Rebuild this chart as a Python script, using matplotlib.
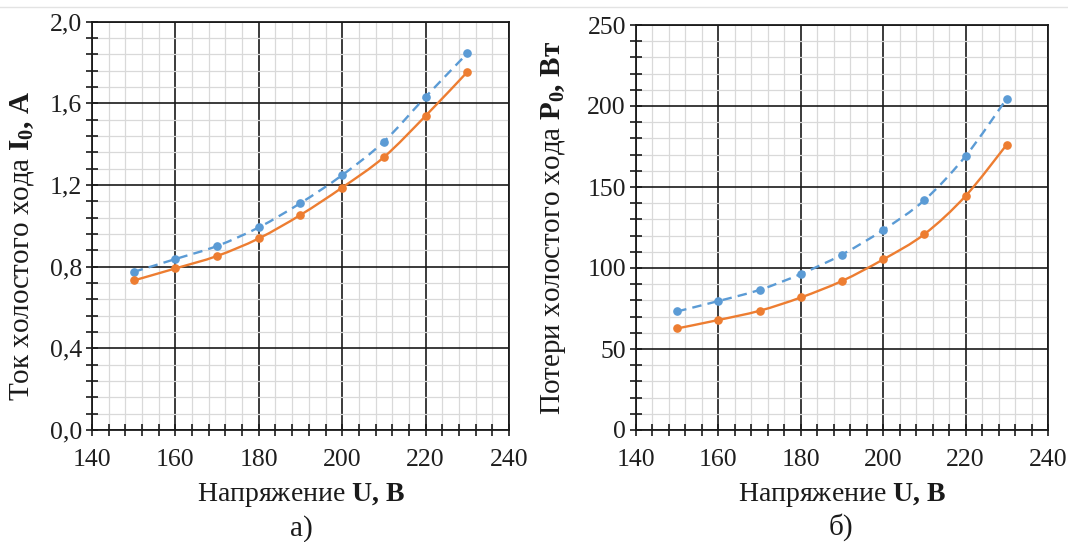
import numpy as np
import matplotlib
matplotlib.use("Agg")
import matplotlib.pyplot as plt
from matplotlib.path import Path
from matplotlib.patches import PathPatch
from matplotlib.lines import Line2D
from matplotlib.ticker import MultipleLocator, FuncFormatter

plt.rcParams['font.family'] = ['Liberation Serif', 'DejaVu Serif']
plt.rcParams['mathtext.fontset'] = 'custom'
plt.rcParams['mathtext.rm'] = 'Liberation Serif'
plt.rcParams['mathtext.it'] = 'Liberation Serif:italic'
plt.rcParams['mathtext.bf'] = 'Liberation Serif:bold'

# Напряжение, В
voltage = [150, 160, 170, 180, 190, 200, 210, 220, 230]

# Ток холостого хода, А
current_blue = [0.774, 0.837, 0.901, 0.992, 1.111, 1.248, 1.412, 1.631, 1.844]
current_orange = [0.732, 0.791, 0.852, 0.938, 1.053, 1.187, 1.336, 1.538, 1.753]

# Потери холостого хода, Вт
loss_blue = [73.2, 79.6, 86.5, 96.3, 108.3, 123.5, 141.9, 169.1, 204.6]
loss_orange = [62.7, 67.9, 73.6, 81.8, 92.0, 105.3, 120.9, 144.5, 176.2]

x_ticks = [140, 160, 180, 200, 220, 240]
left_y_ticks = [0.0, 0.4, 0.8, 1.2, 1.6, 2.0]
right_y_ticks = [0, 50, 100, 150, 200, 250]

BLUE = '#5b9bd5'
ORANGE = '#ed7d31'
FS = 18.5       # tick labels
FS_LBL = 20     # axis titles


def smooth_path(x, y):
    """Cubic Bezier path through the points (spreadsheet-style smoothing)."""
    x = np.asarray(x, float)
    y = np.asarray(y, float)
    n = len(x)
    verts = [(x[0], y[0])]
    codes = [Path.MOVETO]
    for i in range(n - 1):
        i0 = max(i - 1, 0)
        i3 = min(i + 2, n - 1)
        c1 = (x[i] + (x[i + 1] - x[i0]) / 6.0, y[i] + (y[i + 1] - y[i0]) / 6.0)
        c2 = (x[i + 1] - (x[i3] - x[i]) / 6.0, y[i + 1] - (y[i3] - y[i]) / 6.0)
        verts += [c1, c2, (x[i + 1], y[i + 1])]
        codes += [Path.CURVE4] * 3
    return Path(verts, codes)


def draw_series(ax, x, y, color, dashed):
    ls = (0, (4, 2.6)) if dashed else '-'
    patch = PathPatch(smooth_path(x, y), facecolor='none', edgecolor=color,
                      lw=1.7, linestyle=ls, zorder=4, capstyle='butt')
    ax.add_patch(patch)
    ax.plot(x, y, linestyle='none', marker='o', markersize=5.2,
            color=color, zorder=5)


def style_axes(ax, xlim, ylim, xmajor, xminor, ymajor, yminor, fmt):
    ax.set_xlim(*xlim)
    ax.set_ylim(*ylim)
    ax.xaxis.set_major_locator(MultipleLocator(xmajor))
    ax.xaxis.set_minor_locator(MultipleLocator(xminor))
    ax.yaxis.set_major_locator(MultipleLocator(ymajor))
    ax.yaxis.set_minor_locator(MultipleLocator(yminor))
    ax.yaxis.set_major_formatter(FuncFormatter(fmt))
    ax.grid(which='minor', color='#d9d9d9', lw=0.9, zorder=0)
    ax.grid(which='major', color='#1a1a1a', lw=1.2, zorder=1)
    ax.set_axisbelow(True)
    for s in ax.spines.values():
        s.set_color('#1a1a1a')
        s.set_linewidth(1.3)
    ax.tick_params(which='both', direction='inout', length=8, width=1.2,
                   color='#1a1a1a', top=False, right=False)
    ax.tick_params(axis='y', which='major', pad=3.2, labelsize=FS,
                   labelcolor='#1e1e1e')
    ax.tick_params(axis='x', which='major', pad=9.5, labelsize=FS,
                   labelcolor='#1e1e1e')


fig = plt.figure(figsize=(10.68, 5.42), dpi=100)
fig.patch.set_facecolor('white')

ax1 = fig.add_axes([92 / 1068, 1 - 430 / 542, 417 / 1068, 408.5 / 542])
ax2 = fig.add_axes([636 / 1068, 1 - 430 / 542, 412 / 1068, 405 / 542])

style_axes(ax1, (140, 240), (0, 2.0), 20, 4, 0.4, 0.08,
           lambda v, p: f'{v:.1f}'.replace('.', ','))
style_axes(ax2, (140, 240), (0, 250), 20, 4, 50, 10,
           lambda v, p: f'{v:.0f}')

for ax in (ax1, ax2):
    ax.set_xticks(x_ticks)
ax1.set_yticks(left_y_ticks)
ax2.set_yticks(right_y_ticks)

draw_series(ax1, voltage, current_blue, BLUE, True)
draw_series(ax1, voltage, current_orange, ORANGE, False)
draw_series(ax2, voltage, loss_blue, BLUE, True)
draw_series(ax2, voltage, loss_orange, ORANGE, False)

# Axis titles
tc = '#1a1a1a'
fig.text(301 / 1068, 1 - 495 / 542, r'Напряжение $\mathbf{U,\,В}$',
         ha='center', va='center', fontsize=FS_LBL, color=tc)
fig.text(842 / 1068, 1 - 495 / 542, r'Напряжение $\mathbf{U,\,В}$',
         ha='center', va='center', fontsize=FS_LBL, color=tc)
fig.text(301 / 1068, 1 - 529 / 542, 'а)', ha='center', va='center',
         fontsize=FS_LBL + 1, color=tc)
fig.text(841 / 1068, 1 - 527 / 542, 'б)', ha='center', va='center',
         fontsize=FS_LBL + 1, color=tc)
fig.text(22 / 1068, 1 - 246 / 542, r'Ток холостого хода $\mathbf{I_0,\,А}$',
         ha='center', va='center', rotation=90, fontsize=FS_LBL + 1, color=tc)
fig.text(554 / 1068, 1 - 228 / 542, r'Потери холостого хода $\mathbf{P_0,\,Вт}$',
         ha='center', va='center', rotation=90, fontsize=FS_LBL + 1, color=tc)

# Thin separator along the top edge
fig.add_artist(Line2D([0, 1], [1 - 7 / 542, 1 - 7 / 542], color='#e3e3e3',
                      lw=1.0, transform=fig.transFigure))

fig.savefig('out.png', dpi=100, facecolor='white')
